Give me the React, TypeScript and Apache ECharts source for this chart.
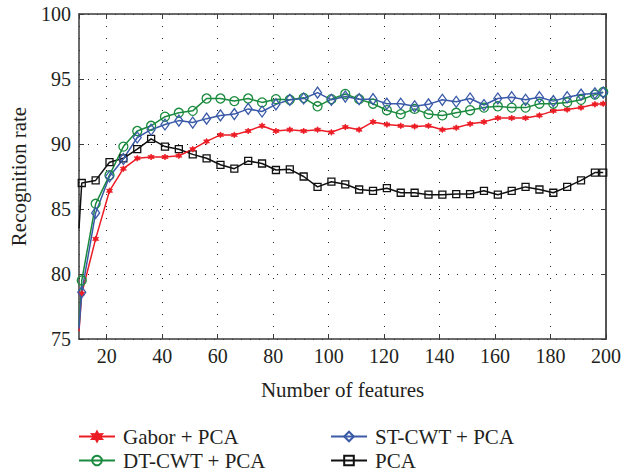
import React, { useEffect, useRef } from "react";
import * as echarts from "echarts";

const featureCounts = [10, 11, 16, 21, 26, 31, 36, 41, 46, 51, 56, 61, 66, 71, 76, 81, 86, 91, 96, 101, 106, 111, 116, 121, 126, 131, 136, 141, 146, 151, 156, 161, 166, 171, 176, 181, 186, 191, 196, 199];

const gaborPca = [75.6, 78.5, 82.7, 86.4, 88.1, 88.9, 89.0, 89.0, 89.1, 89.6, 90.2, 90.7, 90.7, 91.0, 91.4, 91.0, 91.1, 91.0, 91.1, 90.9, 91.3, 91.1, 91.7, 91.5, 91.4, 91.35, 91.4, 91.1, 91.25, 91.55, 91.7, 92.0, 92.0, 92.0, 92.2, 92.55, 92.65, 92.8, 93.05, 93.1];

const dtCwtPca = [76.0, 79.5, 85.4, 87.6, 89.8, 91.0, 91.4, 92.1, 92.4, 92.55, 93.5, 93.5, 93.3, 93.5, 93.2, 93.45, 93.4, 93.55, 92.9, 93.45, 93.85, 93.45, 93.1, 92.6, 92.3, 92.7, 92.3, 92.2, 92.4, 92.6, 92.8, 92.9, 92.8, 92.8, 93.1, 93.1, 93.2, 93.4, 93.8, 94.0];

const stCwtPca = [75.8, 78.6, 84.7, 87.5, 88.85, 90.5, 91.1, 91.5, 91.8, 91.65, 91.95, 92.2, 92.3, 92.7, 92.5, 93.05, 93.4, 93.5, 93.95, 93.4, 93.65, 93.45, 93.45, 93.1, 93.1, 92.9, 93.05, 93.4, 93.25, 93.5, 93.0, 93.5, 93.6, 93.4, 93.6, 93.3, 93.6, 93.8, 93.9, 93.95];

const pcaOnly = [83.5, 87.0, 87.2, 88.6, 88.9, 89.6, 90.4, 89.8, 89.6, 89.2, 88.9, 88.4, 88.1, 88.7, 88.5, 88.0, 88.05, 87.5, 86.7, 87.1, 86.9, 86.5, 86.4, 86.6, 86.25, 86.25, 86.1, 86.1, 86.15, 86.15, 86.4, 86.1, 86.4, 86.7, 86.5, 86.25, 86.7, 87.2, 87.8, 87.8];

const seriesNames = ["Gabor + PCA", "DT-CWT + PCA", "ST-CWT + PCA", "PCA"];

const FONT = "'Liberation Serif', 'DejaVu Serif', serif";
const TEXT = "#231f20";
const AXIS = "#3a3a3a";

function buildData(values: number[]) {
  return featureCounts.map((x, i) =>
    i === 0 ? { value: [x, values[i]], symbol: "none" } : [x, values[i]]
  );
}

function legendItem(name: string, left: number, top: number) {
  return {
    data: [name],
    orient: "horizontal",
    left,
    top,
    padding: 0,
    itemWidth: 36,
    itemHeight: 12,
    textStyle: {
      fontFamily: FONT,
      fontSize: 21,
      color: TEXT,
      padding: [0, 0, 0, 3],
    },
  };
}

export default function App() {
  const ref = useRef<HTMLDivElement>(null);

  useEffect(() => {
    if (!ref.current) return;
    const chart = echarts.init(ref.current, null, { renderer: "svg" });

    const starPath =
      "path://M0,-10 L2.6,-4.5 L8.7,-5 L5.2,0 L8.7,5 L2.6,4.5 L0,10 L-2.6,4.5 L-8.7,5 L-5.2,0 L-8.7,-5 L-2.6,-4.5 Z";

    const common = {
      type: "line",
      xAxisIndex: 0,
      yAxisIndex: 0,
      showAllSymbol: true,
      clip: true,
      z: 3,
    };

    const option: any = {
      animation: false,
      backgroundColor: "#ffffff",
      textStyle: { fontFamily: FONT, color: TEXT },
      grid: { left: 78, right: 18, top: 14, bottom: 133, containLabel: false },
      legend: [
        legendItem(seriesNames[0], 78, 426),
        legendItem(seriesNames[1], 78, 450),
        legendItem(seriesNames[2], 330, 426),
        legendItem(seriesNames[3], 330, 450),
      ],
      xAxis: [
        {
          type: "value",
          position: "bottom",
          min: 10,
          max: 200,
          splitNumber: 10,
          name: "Number of features",
          nameLocation: "middle",
          nameGap: 40,
          nameTextStyle: { fontFamily: FONT, fontSize: 21, color: TEXT },
          axisLine: { show: true, onZero: false, lineStyle: { color: AXIS, width: 1.5 } },
          axisTick: { show: true, inside: true, length: 5, lineStyle: { color: AXIS, width: 1 } },
          axisLabel: {
            showMinLabel: false,
            fontFamily: FONT,
            fontSize: 20,
            color: TEXT,
            margin: 7,
          },
          splitLine: {
            show: true,
            lineStyle: { color: "#222", width: 1, type: [1, 11] },
          },
        },
        {
          type: "value",
          position: "top",
          min: 10,
          max: 200,
          splitNumber: 10,
          axisLine: { show: true, onZero: false, lineStyle: { color: AXIS, width: 1.5 } },
          axisTick: { show: true, inside: true, length: 5, lineStyle: { color: AXIS, width: 1 } },
          axisLabel: { show: false },
          splitLine: { show: false },
        },
      ],
      yAxis: [
        {
          type: "value",
          position: "left",
          min: 75,
          max: 100,
          interval: 5,
          name: "Recognition rate",
          nameLocation: "middle",
          nameRotate: 90,
          nameGap: 50,
          nameTextStyle: { fontFamily: FONT, fontSize: 21, color: TEXT },
          axisLine: { show: true, onZero: false, lineStyle: { color: AXIS, width: 1.5 } },
          axisTick: { show: true, inside: true, length: 5, lineStyle: { color: AXIS, width: 1 } },
          axisLabel: { fontFamily: FONT, fontSize: 20, color: TEXT, margin: 8 },
          splitLine: {
            show: true,
            lineStyle: { color: "#222", width: 1, type: [1, 8] },
          },
        },
        {
          type: "value",
          position: "right",
          min: 75,
          max: 100,
          interval: 5,
          axisLine: { show: true, onZero: false, lineStyle: { color: "#555", width: 2 } },
          axisTick: { show: true, inside: true, length: 5, lineStyle: { color: AXIS, width: 1 } },
          axisLabel: { show: false },
          splitLine: { show: false },
        },
      ],
      series: [
        {
          ...common,
          name: seriesNames[3],
          data: buildData(pcaOnly),
          symbol: "rect",
          symbolSize: 7,
          lineStyle: { color: "#111111", width: 1.5 },
          itemStyle: { color: "rgba(255,255,255,0)", borderColor: "#111111", borderWidth: 1.3 },
        },
        {
          ...common,
          name: seriesNames[0],
          data: buildData(gaborPca),
          symbol: starPath,
          symbolSize: 6,
          lineStyle: { color: "#ec1c24", width: 1.5 },
          itemStyle: { color: "#ec1c24", borderColor: "#ec1c24", borderWidth: 0.8 },
        },
        {
          ...common,
          name: seriesNames[1],
          data: buildData(dtCwtPca),
          symbol: "circle",
          symbolSize: 9,
          lineStyle: { color: "#1a8a3e", width: 1.5 },
          itemStyle: { color: "rgba(255,255,255,0)", borderColor: "#1a8a3e", borderWidth: 1.3 },
        },
        {
          ...common,
          name: seriesNames[2],
          data: buildData(stCwtPca),
          symbol: "diamond",
          symbolSize: [8, 11],
          lineStyle: { color: "#3a5aa8", width: 1.5 },
          itemStyle: { color: "rgba(255,255,255,0)", borderColor: "#3a5aa8", borderWidth: 1.3 },
        },
      ],
    };

    chart.setOption(option);
    return () => {
      chart.dispose();
    };
  }, []);

  return <div ref={ref} style={{ width: 624, height: 472, position: "absolute", left: 0, top: 0 }} />;
}
